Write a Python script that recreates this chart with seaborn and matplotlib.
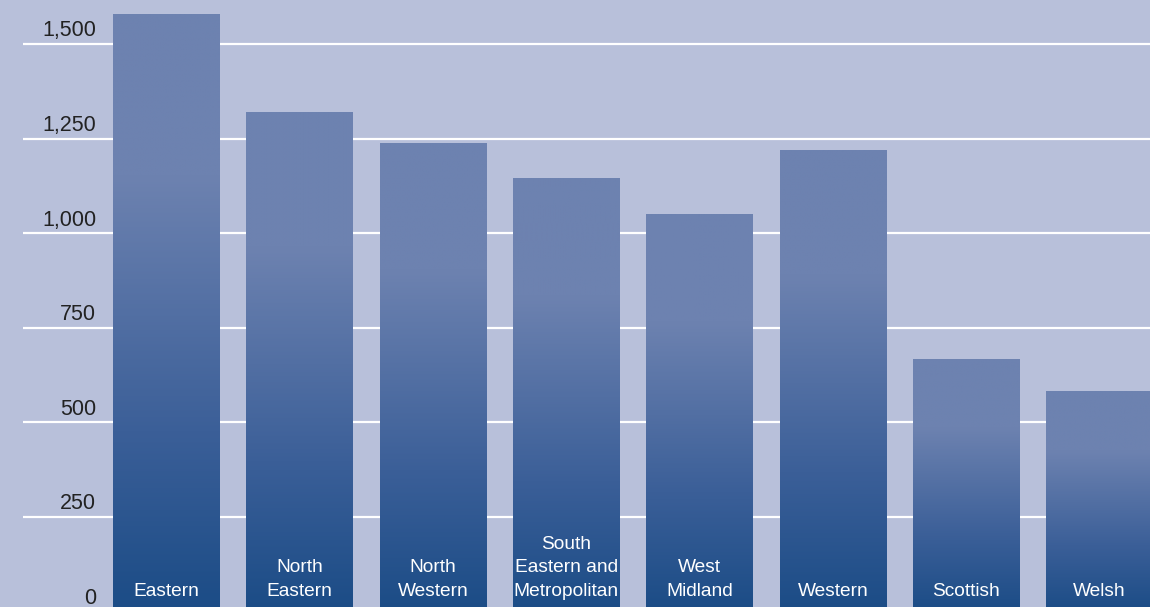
import numpy as np
import pandas as pd
import matplotlib
matplotlib.use("Agg")
import matplotlib.pyplot as plt
import matplotlib.transforms as mtransforms
from matplotlib.colors import LinearSegmentedColormap
import seaborn as sns

# ---- data ----
regions = ["Eastern", "North\nEastern", "North\nWestern", "South\nEastern and\nMetropolitan",
           "West\nMidland", "Western", "Scottish", "Welsh"]
values = [1579, 1320, 1238, 1146, 1051, 1220, 668, 583]
yticks = [0, 250, 500, 750, 1000, 1250, 1500]
ytick_labels = ["0", "250", "500", "750", "1,000", "1,250", "1,500"]

BG = "#b8c0da"
BOTTOM_C = "#1b4c86"
TOP_C = "#6d82b0"

sns.set_theme(style="white")
plt.rcParams["font.family"] = ["Liberation Sans", "DejaVu Sans"]

fig = plt.figure(figsize=(11.5, 6.07), dpi=100, facecolor=BG)
ax = fig.add_axes([23 / 1150, -0.0076, 1127 / 1150, 1.0076])
ax.set_facecolor(BG)

df = pd.DataFrame({"region": regions, "value": values})
sns.barplot(data=df, x="region", y="value", ax=ax, width=0.8, color=TOP_C,
            saturation=1, edgecolor="none", linewidth=0, zorder=2)

ax.set_xlim(-1.076, 7.378)
ax.set_ylim(0, 1616)

# gridlines
for t in yticks:
    ax.axhline(t, color="white", lw=1.6, zorder=1)

# tick labels above gridlines
trans = mtransforms.blended_transform_factory(ax.transAxes, ax.transData)
for t, lab in zip(yticks, ytick_labels):
    ax.annotate(lab, xy=(73 / 1127, t), xycoords=trans, xytext=(0, 5.5),
                textcoords="offset points", ha="right", va="baseline",
                fontsize=15.5, color="#222222")

# gradient fill of bars
cmap = LinearSegmentedColormap.from_list("g", [(0, BOTTOM_C), (0.3, "#3b5f98"),
                                               (0.73, TOP_C), (1.0, TOP_C)])
grad = np.linspace(0, 1, 400).reshape(-1, 1)
for p in ax.patches:
    x0, w, h = p.get_x(), p.get_width(), p.get_height()
    im = ax.imshow(grad, cmap=cmap, extent=[x0, x0 + w, 0, h], origin="lower",
                   aspect="auto", zorder=3, interpolation="bilinear")
    im.set_clip_path(p)

# bar labels
for i, (lab, v) in enumerate(zip(regions, values)):
    ax.annotate(lab, xy=(i, 0), xycoords="data", xytext=(0, 8.5),
                textcoords="offset points", ha="center", va="bottom",
                fontsize=13.8, color="white", linespacing=1.5, zorder=5)

ax.set_xlabel("")
ax.set_ylabel("")
ax.set_xticks([])
ax.set_yticks([])
for s in ax.spines.values():
    s.set_visible(False)
ax.grid(False)

fig.savefig("out.png", dpi=100, facecolor=BG)
